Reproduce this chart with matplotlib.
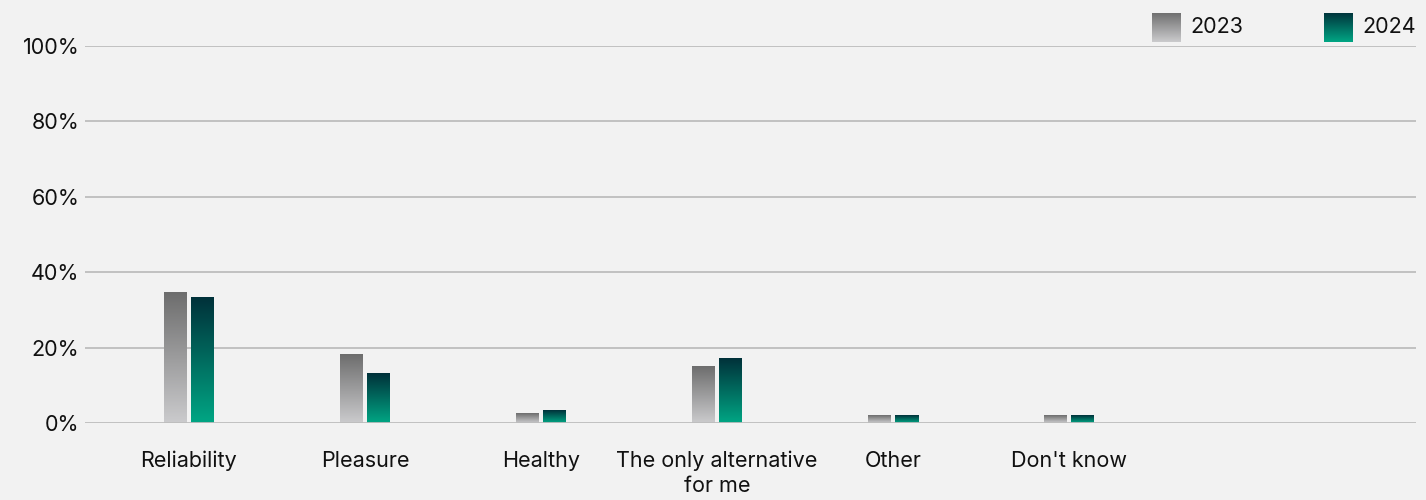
import numpy as np
import matplotlib.pyplot as plt
from matplotlib.colors import LinearSegmentedColormap

# data
categories = ["Reliability", "Pleasure", "Healthy", "The only alternative\nfor me", "Other", "Don't know"]
values_2023 = [34.5, 18.3, 2.4, 15.1, 2.1, 2.1]
values_2024 = [33.2, 13.0, 3.2, 17.0, 2.1, 2.1]
series_names = ["2023", "2024"]
yticks = [0, 20, 40, 60, 80, 100]

bg = "#f2f2f2"
grid_col = "#bdbdbd"
gray_cmap = LinearSegmentedColormap.from_list("g", ["#cbcbcd", "#6d6d6d"])
green_cmap = LinearSegmentedColormap.from_list("t", ["#00a684", "#00313a"])

plt.rcParams['font.family'] = ['Inter', 'DejaVu Sans']
fs = 15.5

fig = plt.figure(figsize=(14.26, 5), dpi=100, facecolor=bg)
ax = fig.add_axes([85 / 1426, 77 / 500, (1416 - 85) / 1426, (423 - 46) / 500])
ax.set_facecolor(bg)

x = np.arange(len(categories))
unit = 176.0
bw = 23 / unit
gap = 4 / unit

grad = np.linspace(0, 1, 256).reshape(-1, 1)

def gradient_bars(xs, vals, cmap):
    bars = ax.bar(xs, vals, width=bw, color="none", edgecolor="none", zorder=3)
    for b in bars:
        x0, y0 = b.get_x(), b.get_y()
        w, h = b.get_width(), b.get_height()
        ax.imshow(grad, extent=[x0, x0 + w, y0, y0 + h], origin="lower",
                  cmap=cmap, aspect="auto", zorder=3)
    return bars

gradient_bars(x - (bw + gap) / 2, values_2023, gray_cmap)
gradient_bars(x + (bw + gap) / 2, values_2024, green_cmap)

ax.set_xlim(-104 / unit, (1416 - 189) / unit)
ax.set_ylim(0, 100)
ax.set_yticks(yticks)
ax.set_yticklabels([f"{v}%" for v in yticks], fontsize=fs, color="#111111")
ax.set_xticks(x)
ax.set_xticklabels(categories, fontsize=fs, color="#111111", linespacing=1.3)
ax.tick_params(axis="y", length=0, pad=4)
ax.tick_params(axis="x", length=0, pad=20)
for yv in yticks:
    ax.axhline(yv, color=grid_col, lw=1.3, zorder=4 if yv == 0 else 1)
for s in ax.spines.values():
    s.set_visible(False)

# legend with gradient swatches
legend_items = [(1152, gray_cmap, series_names[0]), (1324, green_cmap, series_names[1])]
for px, cmap, name in legend_items:
    lax = fig.add_axes([px / 1426, (500 - 42) / 500, 29 / 1426, 29 / 500])
    lax.imshow(grad, origin="lower", cmap=cmap, aspect="auto")
    lax.axis("off")
    fig.text((px + 38) / 1426, (500 - 27) / 500, name, fontsize=fs,
             color="#111111", va="center", ha="left")

fig.savefig("out.png", dpi=100, facecolor=bg)
